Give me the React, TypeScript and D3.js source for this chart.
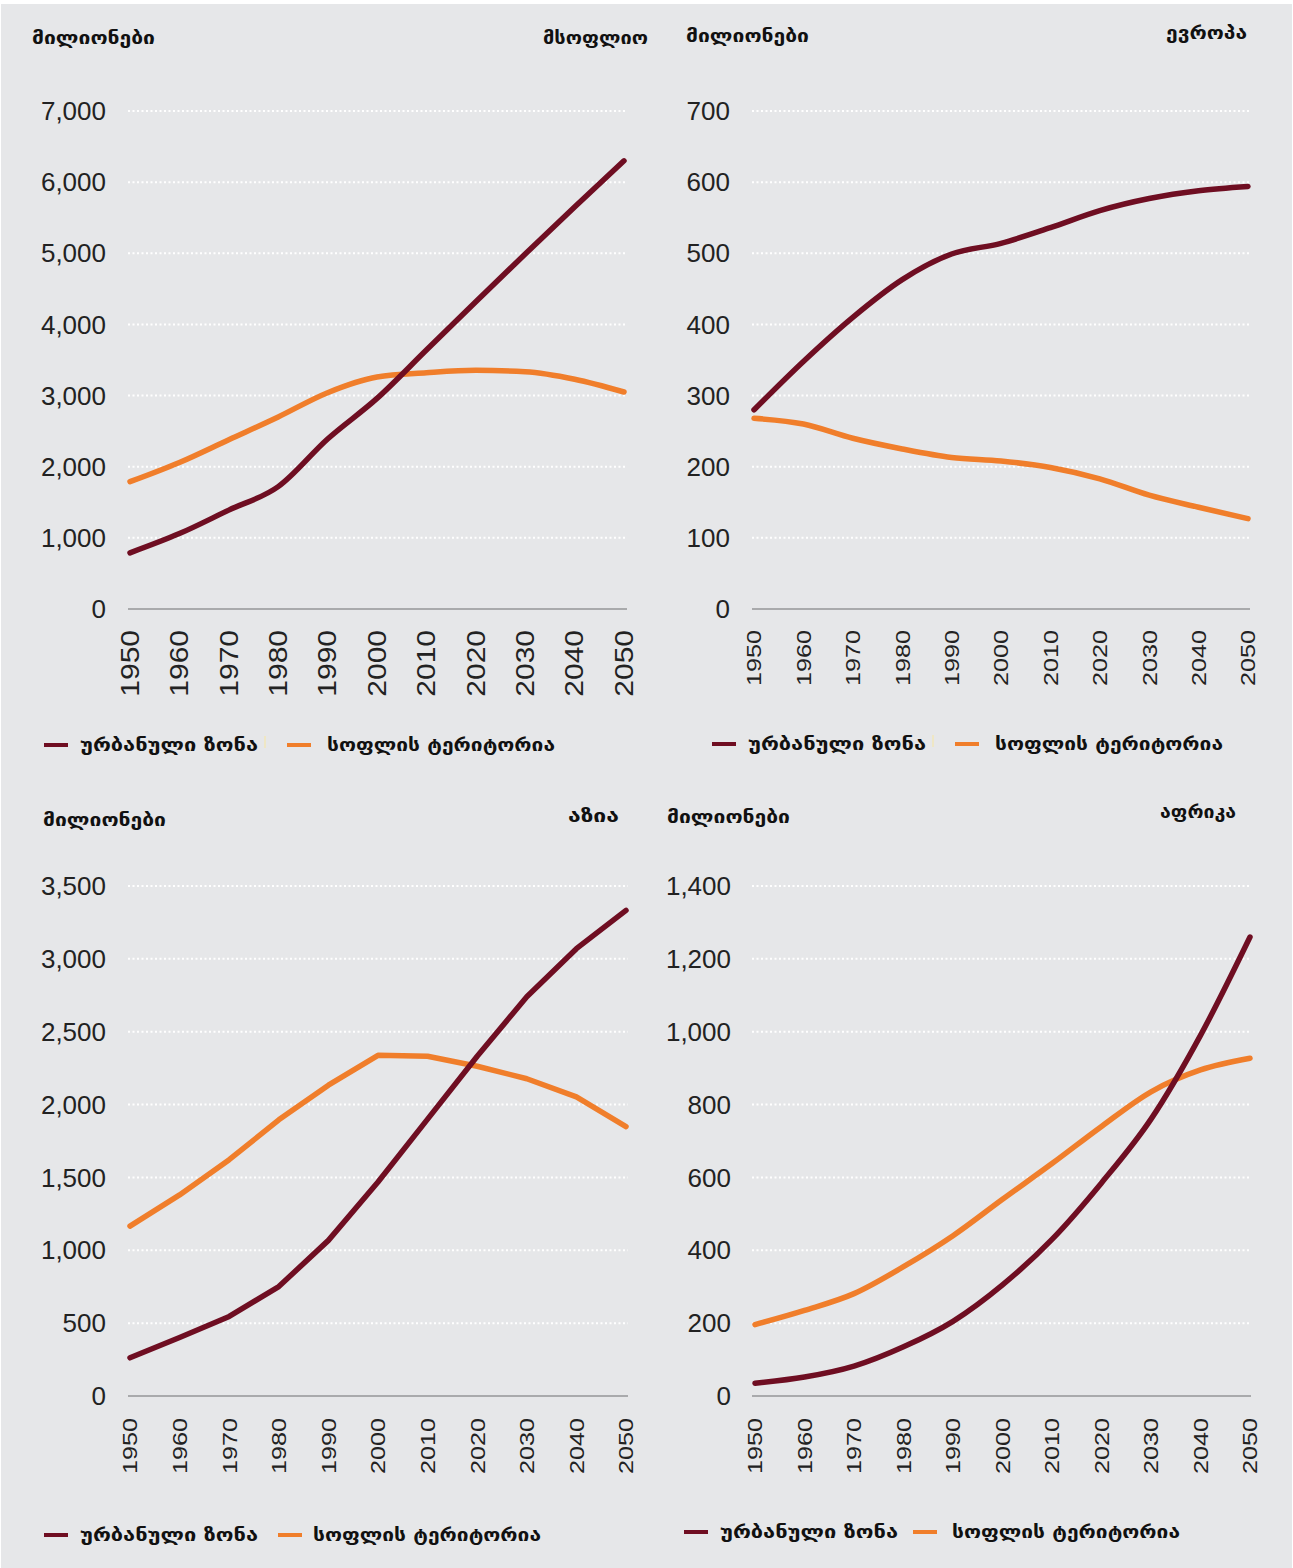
import React, { useRef, useEffect } from "react";
import * as d3 from "d3";

// decades on the x axis
const years = [1950, 1960, 1970, 1980, 1990, 2000, 2010, 2020, 2030, 2040, 2050];

// millions of people
const worldUrban = [790, 1060, 1390, 1720, 2390, 2960, 3640, 4320, 4990, 5650, 6300];
const worldRural = [1790, 2060, 2380, 2700, 3040, 3260, 3320, 3355, 3335, 3230, 3050];

const europeUrban = [280, 348, 410, 463, 499, 514, 536, 560, 577, 588, 594];
const europeRural = [268, 260, 240, 225, 213, 208, 199, 183, 160, 143, 127];

const asiaUrban = [262, 401, 546, 751, 1068, 1469, 1900, 2332, 2740, 3070, 3333];
const asiaRural = [1166, 1380, 1622, 1895, 2133, 2338, 2332, 2263, 2177, 2053, 1849];

const africaUrban = [35, 52, 82, 135, 205, 305, 430, 585, 760, 990, 1260];
const africaRural = [196, 235, 281, 355, 440, 540, 638, 740, 835, 895, 927];

const worldTicks = [0, 1000, 2000, 3000, 4000, 5000, 6000, 7000];
const europeTicks = [0, 100, 200, 300, 400, 500, 600, 700];
const asiaTicks = [0, 500, 1000, 1500, 2000, 2500, 3000, 3500];
const africaTicks = [0, 200, 400, 600, 800, 1000, 1200, 1400];

const unitLabel = "მილიონები";
const urbanLabel = "ურბანული ზონა";
const ruralLabel = "სოფლის ტერიტორია";

const URBAN = "#6f0e22";
const RURAL = "#f07e2b";
const BG = "#e6e7e9";
const INK = "#222";
const GEO = "'DejaVu Sans', sans-serif";
const NUM = "'Liberation Sans', Arial, sans-serif";

const panels = [
  {
    title: "მსოფლიო", urban: worldUrban, rural: worldRural, ticks: worldTicks,
    x0: 130, x1: 624, gx0: 128, gx1: 627, yTop: 111, yBot: 609, labelX: 106,
    curve: d3.curveMonotoneX, yearTop: 630, yearSize: 25, yearScale: 1.2,
    unitX: 32, unitY: 44, titleX: 648, titleY: 44, titleW: 105,
    legY: 745, sw1: 44, t1: 80, sw2: 287, t2: 327, mark: 265,
  },
  {
    title: "ევროპა", urban: europeUrban, rural: europeRural, ticks: europeTicks,
    x0: 754, x1: 1248, gx0: 752, gx1: 1250, yTop: 111, yBot: 609, labelX: 730,
    curve: d3.curveMonotoneX, yearTop: 630, yearSize: 21, yearScale: 1.2,
    unitX: 686, unitY: 42, titleX: 1247, titleY: 39, titleW: 81,
    legY: 744, sw1: 712, t1: 748, sw2: 955, t2: 995, mark: 933,
  },
  {
    title: "აზია", urban: asiaUrban, rural: asiaRural, ticks: asiaTicks,
    x0: 130, x1: 626, gx0: 128, gx1: 628, yTop: 886, yBot: 1396, labelX: 106,
    curve: d3.curveLinear, yearTop: 1418, yearSize: 21, yearScale: 1.2,
    unitX: 43, unitY: 826, titleX: 619, titleY: 822, titleW: 51,
    legY: 1535, sw1: 44, t1: 80, sw2: 278, t2: 313, mark: null,
  },
  {
    title: "აფრიკა", urban: africaUrban, rural: africaRural, ticks: africaTicks,
    x0: 755, x1: 1250, gx0: 752, gx1: 1251, yTop: 886, yBot: 1396, labelX: 731,
    curve: d3.curveMonotoneX, yearTop: 1418, yearSize: 21, yearScale: 1.2,
    unitX: 667, unitY: 823, titleX: 1236, titleY: 818, titleW: 76,
    legY: 1532, sw1: 684, t1: 720, sw2: 913, t2: 952, mark: null,
  },
];

function App() {
  const svgRef = useRef(null);

  useEffect(() => {
    const svg = d3.select(svgRef.current);
    svg.selectAll("*").remove();

    svg.append("rect").attr("x", 0).attr("y", 0).attr("width", 1293).attr("height", 1568).attr("fill", "#fff");
    svg.append("rect").attr("x", 1).attr("y", 4).attr("width", 1291).attr("height", 1564).attr("fill", BG);

    const fmt = d3.format(",");

    panels.forEach((p) => {
      const g = svg.append("g");
      const x = d3.scaleLinear().domain([1950, 2050]).range([p.x0, p.x1]);
      const y = d3
        .scaleLinear()
        .domain([0, p.ticks[p.ticks.length - 1]])
        .range([p.yBot, p.yTop]);

      // dotted white gridlines
      g.selectAll("line.grid")
        .data(p.ticks.slice(1))
        .enter()
        .append("line")
        .attr("x1", p.gx0)
        .attr("x2", p.gx1)
        .attr("y1", (d) => y(d))
        .attr("y2", (d) => y(d))
        .attr("stroke", "#fff")
        .attr("stroke-width", 2)
        .attr("stroke-dasharray", "2,2.5");

      // baseline
      g.append("line")
        .attr("x1", p.gx0)
        .attr("x2", p.gx1)
        .attr("y1", y(0))
        .attr("y2", y(0))
        .attr("stroke", "#a9aaac")
        .attr("stroke-width", 2);

      // y tick labels
      g.selectAll("text.ytick")
        .data(p.ticks)
        .enter()
        .append("text")
        .text((d) => fmt(d))
        .attr("x", p.labelX)
        .attr("y", (d) => y(d))
        .attr("dy", "0.35em")
        .attr("text-anchor", "end")
        .attr("font-family", NUM)
        .attr("font-size", 26)
        .attr("fill", INK);

      // rotated year labels
      g.selectAll("text.year")
        .data(years)
        .enter()
        .append("text")
        .text((d) => d)
        .attr(
          "transform",
          (d) => `translate(${x(d)},${p.yearTop}) rotate(-90) scale(${p.yearScale},1)`
        )
        .attr("dy", "0.35em")
        .attr("text-anchor", "end")
        .attr("font-family", NUM)
        .attr("font-size", p.yearSize)
        .attr("fill", INK);

      const line = d3
        .line()
        .x((d, i) => x(years[i]))
        .y((d) => y(d))
        .curve(p.curve);

      g.append("path")
        .datum(p.rural)
        .attr("d", line)
        .attr("fill", "none")
        .attr("stroke", RURAL)
        .attr("stroke-width", 5.5)
        .attr("stroke-linecap", "round")
        .attr("stroke-linejoin", "round");

      g.append("path")
        .datum(p.urban)
        .attr("d", line)
        .attr("fill", "none")
        .attr("stroke", URBAN)
        .attr("stroke-width", 5.5)
        .attr("stroke-linecap", "round")
        .attr("stroke-linejoin", "round");

      // headers
      g.append("text")
        .text(unitLabel)
        .attr("x", p.unitX)
        .attr("y", p.unitY)
        .attr("font-family", GEO)
        .attr("font-weight", "bold")
        .attr("font-size", 17)
        .attr("textLength", 123)
        .attr("lengthAdjust", "spacingAndGlyphs")
        .attr("fill", "#111");

      g.append("text")
        .text(p.title)
        .attr("x", p.titleX - p.titleW)
        .attr("y", p.titleY)
        .attr("font-family", GEO)
        .attr("font-weight", "bold")
        .attr("font-size", 17)
        .attr("textLength", p.titleW)
        .attr("lengthAdjust", "spacingAndGlyphs")
        .attr("fill", "#111");

      // legend
      const leg = g.append("g");
      leg.append("line")
        .attr("x1", p.sw1).attr("x2", p.sw1 + 24)
        .attr("y1", p.legY).attr("y2", p.legY)
        .attr("stroke", URBAN).attr("stroke-width", 4);
      leg.append("text")
        .text(urbanLabel)
        .attr("x", p.t1).attr("y", p.legY + 6)
        .attr("font-family", GEO).attr("font-weight", "bold").attr("font-size", 18)
        .attr("textLength", 178).attr("lengthAdjust", "spacingAndGlyphs")
        .attr("fill", "#111");
      if (p.mark !== null) {
        leg.append("line")
          .attr("x1", p.mark).attr("x2", p.mark)
          .attr("y1", p.legY - 9).attr("y2", p.legY + 3)
          .attr("stroke", "#f2e7b8").attr("stroke-width", 1.5);
      }
      leg.append("line")
        .attr("x1", p.sw2).attr("x2", p.sw2 + 24)
        .attr("y1", p.legY).attr("y2", p.legY)
        .attr("stroke", RURAL).attr("stroke-width", 4);
      leg.append("text")
        .text(ruralLabel)
        .attr("x", p.t2).attr("y", p.legY + 6)
        .attr("font-family", GEO).attr("font-weight", "bold").attr("font-size", 18)
        .attr("textLength", 228).attr("lengthAdjust", "spacingAndGlyphs")
        .attr("fill", "#111");
    });
  }, []);

  return (
    <svg
      ref={svgRef}
      width={1293}
      height={1568}
      style={{ position: "absolute", left: 0, top: 0, display: "block" }}
    />
  );
}

export default App;
